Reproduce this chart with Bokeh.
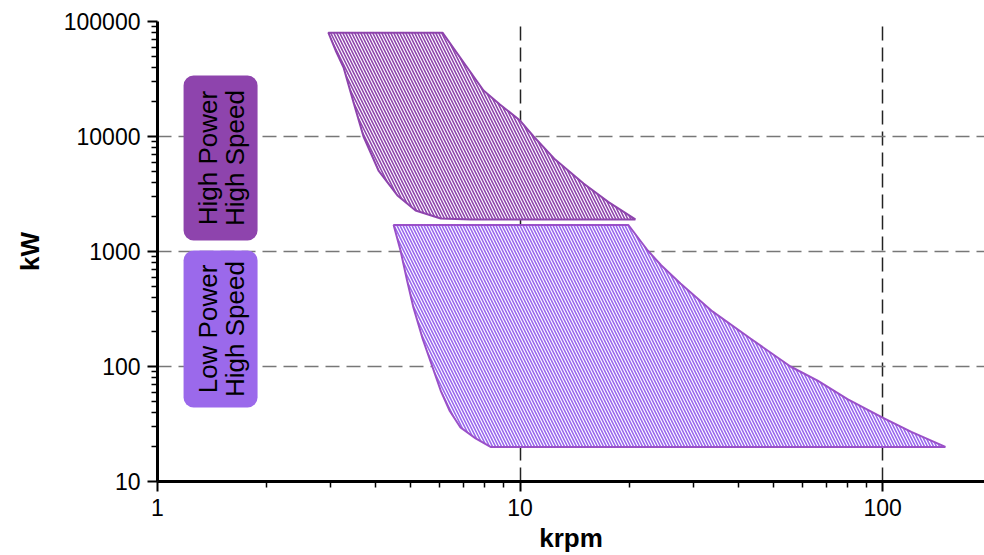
from bokeh.plotting import figure
from bokeh.models import FixedTicker, BoxAnnotation, Label, Range1d, NumeralTickFormatter
from bokeh.embed import file_html
from bokeh.resources import INLINE

# ---- data ----
x_ticks = [1, 10, 100]
x_tick_labels = ["1", "10", "100"]
x_minor = [2, 3, 4, 5, 6, 7, 8, 9, 20, 30, 40, 50, 60, 70, 80, 90]
y_ticks = [10, 100, 1000, 10000, 100000]
y_tick_labels = ["10", "100", "1000", "10000", "100000"]
y_minor = [m * d for d in (10, 100, 1000, 10000) for m in range(2, 10)]

# High Power / High Speed region (krpm, kW)
hp_krpm = [2.96, 3.10, 3.26, 3.47, 3.70, 4.07, 4.59, 5.15, 6.04, 7.30, 20.8,
           17.5, 14.97, 12.5, 10.9, 10.0, 8.8, 7.93, 6.11]
hp_kw = [80000, 56000, 39800, 20000, 10000, 5060, 3070, 2275, 1937, 1900, 1900,
         2700, 3900, 6300, 10000, 13770, 19000, 25100, 80000]

# Low Power / High Speed region (krpm, kW)
lp_krpm = [4.48, 4.68, 4.88, 5.08, 5.40, 5.74, 6.04, 6.40, 6.85, 7.54, 8.29,
           149, 120, 100, 80, 66.2, 55.7, 43.2, 34, 27.7, 24.5, 22.5, 19.9]
lp_kw = [1700, 1020, 560, 326, 170, 98, 61.8, 41, 29.5, 23.7, 20,
         20, 27, 36, 52, 75.5, 100, 175, 300, 527, 760, 1020, 1700]

box_labels = [["High Power", "High Speed"], ["Low Power", "High Speed"]]
box_colors = ["#8E44AD", "#9B69EB"]

FONT = "Liberation Sans"

p = figure(width=984, height=555, x_axis_type="log", y_axis_type="log",
           x_range=Range1d(1, 191), y_range=Range1d(10, 100000),
           output_backend="svg", toolbar_location=None,
           min_border_left=157, min_border_right=0, min_border_top=21, min_border_bottom=74)
p.outline_line_color = None
p.background_fill_color = "white"

p.xaxis.ticker = FixedTicker(ticks=x_ticks, minor_ticks=x_minor)
p.yaxis.ticker = FixedTicker(ticks=y_ticks, minor_ticks=y_minor)
p.xaxis.formatter = NumeralTickFormatter(format="0")
p.yaxis.formatter = NumeralTickFormatter(format="0")
p.xaxis.major_label_overrides = {v: s for v, s in zip(x_ticks, x_tick_labels)}
p.yaxis.major_label_overrides = {v: s for v, s in zip(y_ticks, y_tick_labels)}
p.xaxis.axis_label = "krpm"
p.yaxis.axis_label = "kW"

for ax in (p.xaxis[0], p.yaxis[0]):
    ax.axis_line_width = 3
    ax.axis_line_color = "black"
    ax.major_tick_out = 10
    ax.major_tick_in = 0
    ax.major_tick_line_width = 2
    ax.minor_tick_out = 6
    ax.minor_tick_in = 0
    ax.minor_tick_line_width = 1.5
    ax.major_label_text_font = FONT
    ax.major_label_text_font_size = "23px"
    ax.major_label_text_color = "black"
    ax.axis_label_text_font = FONT
    ax.axis_label_text_font_style = "bold"
    ax.axis_label_text_font_size = "26px"
    ax.axis_label_text_color = "black"

p.xaxis.major_label_standoff = 7
p.xaxis.axis_label_standoff = 4
p.yaxis.major_label_standoff = 7
p.yaxis.axis_label_standoff = 16

p.xgrid.grid_line_color = "#222222"
p.xgrid.grid_line_dash = "14 7"
p.xgrid.grid_line_width = 1.5
p.ygrid.grid_line_color = "#777777"
p.ygrid.grid_line_dash = "14 7"
p.ygrid.grid_line_width = 1.5

p.patch(hp_krpm, hp_kw, fill_color="white", fill_alpha=1,
        line_color="#8E44AD", line_width=2,
        hatch_pattern="\\", hatch_color="#8E44AD", hatch_scale=6, hatch_weight=1.6)
p.patch(lp_krpm, lp_kw, fill_color="white", fill_alpha=1,
        line_color="#9A50C8", line_width=2,
        hatch_pattern="\\", hatch_color="#9966EE", hatch_scale=6, hatch_weight=1.6)

boxes = [(1.18, 1.888, 1247, 33900), (1.18, 1.888, 44, 1020)]
for (l, r, b, t), col, labs in zip(boxes, box_colors, box_labels):
    p.add_layout(BoxAnnotation(left=l, right=r, bottom=b, top=t, fill_color=col,
                               fill_alpha=1, line_color=None, border_radius=10))
    yc = (b * t) ** 0.5
    for xc, txt in zip((1.374, 1.641), labs):
        p.add_layout(Label(x=xc, y=yc, text=txt, angle=90, angle_units="deg",
                           text_align="center", text_baseline="middle",
                           text_font=FONT, text_font_size="26px", text_color="black"))

open("out.html", "w").write(file_html(p, INLINE))
